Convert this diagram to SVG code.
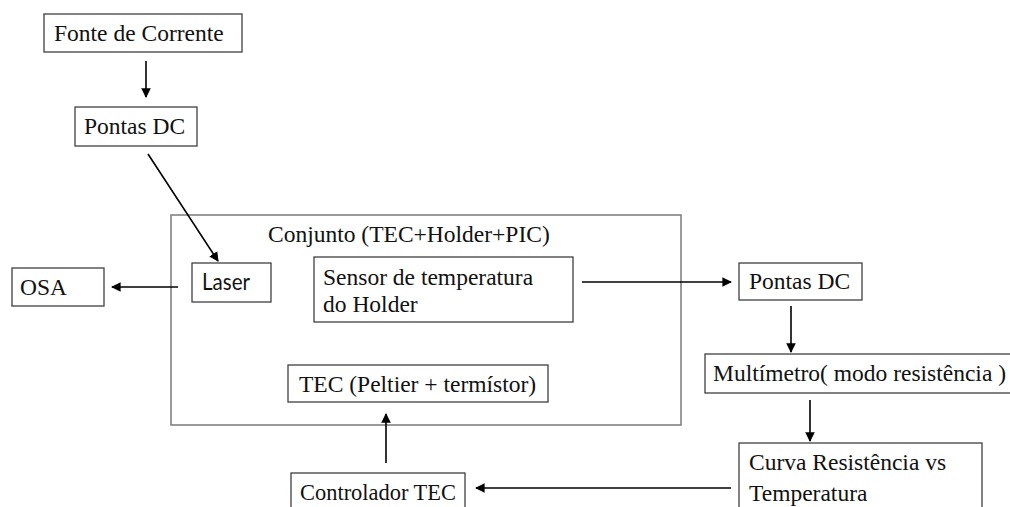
<svg xmlns="http://www.w3.org/2000/svg" width="1010" height="507" viewBox="0 0 1010 507">
  <style>
    .box { fill: #ffffff; stroke: #404040; stroke-width: 1.3; }
    .frame { fill: none; stroke: #7a7a7a; stroke-width: 1.5; }
    .lbl { font-family: "Liberation Serif", "Times New Roman", serif; font-size: 23.5px; fill: #111111; }
    .sans { font-family: Lato, "Liberation Sans", sans-serif; font-size: 22.5px; fill: #111111; }
    .wire { fill: none; stroke: #000000; stroke-width: 1.6; marker-end: url(#tip); }
  </style>
  <defs>
    <marker id="tip" viewBox="0 0 10 10" refX="9" refY="5" markerWidth="6" markerHeight="6" markerUnits="strokeWidth" orient="auto">
      <path d="M0,0 L10,5 L0,10 z" fill="#000000"/>
    </marker>
  </defs>

  <rect width="1010" height="507" fill="#ffffff"/>

  <!-- assembly frame -->
  <g id="conjunto">
    <rect class="frame" x="171" y="215" width="510" height="210"/>
    <text class="lbl" x="268" y="242">Conjunto (TEC+Holder+PIC)</text>
  </g>

  <g id="fonte">
    <rect class="box" x="44" y="14" width="198" height="38"/>
    <text class="lbl" x="54" y="41">Fonte de Corrente</text>
  </g>

  <g id="pontas1">
    <rect class="box" x="75" y="107" width="122" height="39"/>
    <text class="lbl" x="84" y="134">Pontas DC</text>
  </g>

  <g id="laser">
    <rect class="box" x="192" y="263" width="79" height="39"/>
    <text class="sans" x="202" y="290" textLength="48" lengthAdjust="spacingAndGlyphs">Laser</text>
  </g>

  <g id="osa">
    <rect class="box" x="12" y="268" width="92" height="38"/>
    <text class="lbl" x="20" y="295">OSA</text>
  </g>

  <g id="sensor">
    <rect class="box" x="314" y="257" width="259" height="65"/>
    <text class="lbl" x="323" y="285">Sensor de temperatura</text>
    <text class="lbl" x="323" y="312">do Holder</text>
  </g>

  <g id="tec">
    <rect class="box" x="288" y="365" width="260" height="37"/>
    <text class="lbl" x="299" y="392">TEC (Peltier + termístor)</text>
  </g>

  <g id="pontas2">
    <rect class="box" x="739" y="263" width="123" height="37"/>
    <text class="lbl" x="749" y="289">Pontas DC</text>
  </g>

  <g id="multimetro">
    <rect class="box" x="705" y="354" width="310" height="39"/>
    <text class="lbl" x="713" y="381">Multímetro( modo resistência )</text>
  </g>

  <g id="curva">
    <rect class="box" x="739" y="443" width="243" height="70"/>
    <text class="lbl" x="749" y="470">Curva Resistência vs</text>
    <text class="lbl" x="749" y="501">Temperatura</text>
  </g>

  <g id="controlador">
    <rect class="box" x="291" y="473" width="174" height="40"/>
    <text class="lbl" x="300" y="500" textLength="156" lengthAdjust="spacingAndGlyphs">Controlador TEC</text>
  </g>

  <!-- connectors -->
  <g id="connectors">
    <line class="wire" x1="146" y1="61" x2="146" y2="97"/>
    <line class="wire" x1="148" y1="154" x2="218" y2="261"/>
    <line class="wire" x1="178" y1="287" x2="112" y2="287"/>
    <line class="wire" x1="582" y1="282" x2="731" y2="282"/>
    <line class="wire" x1="791" y1="306" x2="791" y2="352"/>
    <line class="wire" x1="810" y1="400" x2="810" y2="441"/>
    <line class="wire" x1="731" y1="488" x2="476" y2="488"/>
    <line class="wire" x1="386" y1="463" x2="386" y2="414"/>
  </g>
</svg>
